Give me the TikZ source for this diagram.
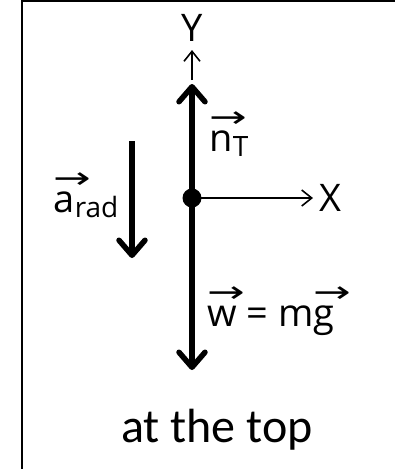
\documentclass[tikz,border=0pt]{standalone}
\usepackage{fontspec}
\setmainfont{Carlito}
\newfontfamily\handfont{Open Sans}
\newfontfamily\arrowfont{DejaVu Sans}
\usetikzlibrary{arrows.meta}
\tikzset{
    force/.style={line width=5.5pt, -{Straight Barb[length=15pt, width=26pt, round]}},
    axis/.style={line width=1.6pt, -{Straight Barb[length=10pt, width=16pt]}},
    lbl/.style={font=\fontsize{38}{44}\selectfont\handfont, inner sep=0pt},
}
\newcommand{\hvec}[1]{\makebox[0pt][l]{\raisebox{24pt}{\scalebox{1.5}[1]{\fontsize{30}{30}\selectfont\arrowfont →}}}#1}
\newcommand{\hsub}[1]{\raisebox{-5pt}{\fontsize{28}{32}\selectfont #1}}
\begin{document}
\begin{tikzpicture}[x=1pt, y=-1pt]
    \useasboundingbox (0,0) rectangle (395,469);
    % frame
    \draw[line width=2pt] (22,469) -- (22,1) -- (395,1);
    % body and axes
    \node[circle, fill, inner sep=0pt, minimum size=19pt] (dot) at (192,198) {};
    \coordinate (ntip) at (192,84);
    \coordinate (wtip) at (192,370);
    \coordinate (ybot) at (192,80);
    \coordinate (ytip) at (192,50);
    \coordinate (xtip) at (313,198);
    \draw[axis] (dot.center) -- (xtip);
    \draw[axis] (ybot) -- (ytip);
    \draw[force] (dot.center) -- (ntip);
    \draw[force] (dot.center) -- (wtip);
    \node[lbl] (ylab) at (192,28) {Y};
    \node[lbl] (xlab) at (330,198) {X};
    % acceleration
    \coordinate (atop) at (132,141);
    \coordinate (abot) at (132,258);
    \draw[force] (atop) -- (abot);
    % labels
    \node[lbl, anchor=base] (nlab) at (229,151) {\hvec{n}\hsub{T}};
    \node[lbl, anchor=base] (alab) at (86,212) {\hvec{a}\hsub{rad}};
    \node[lbl, anchor=base] (wlab) at (271,326) {\hvec{w} = m\hvec{g}};
    \node[font=\fontsize{48}{56}\selectfont, inner sep=0pt] (cap) at (217,430) {at the top};
\end{tikzpicture}
\end{document}
